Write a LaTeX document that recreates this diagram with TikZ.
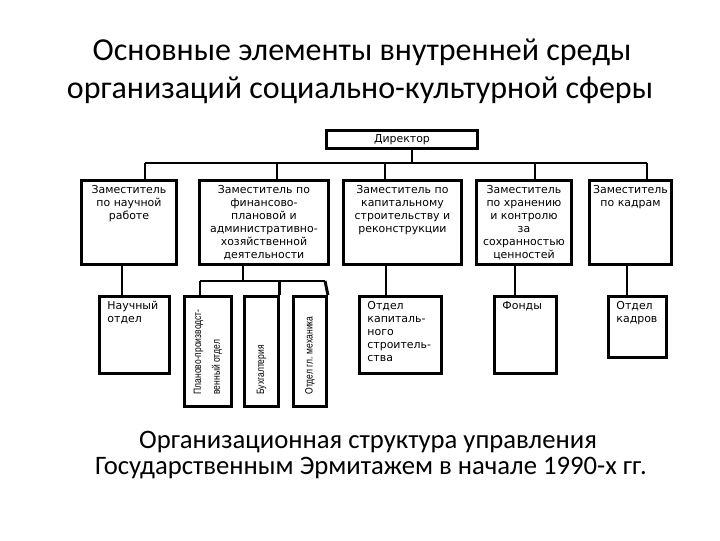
\documentclass[tikz,border=0pt]{standalone}
\usepackage{fontspec}
\setmainfont{Carlito}
\newfontfamily\boxfont{DejaVu Sans}
\newfontfamily\rotfont[FakeStretch=0.8]{Liberation Sans}
\newdimen\pxu \pxu=0.75pt
\newcommand\cell[3]{\parbox[c][#2\pxu][t]{#1\pxu}{\centering\rule{0pt}{13.5\pxu}#3}}
\newcommand\lcell[3]{\parbox[c][#2\pxu][t]{#1\pxu}{\raggedright\leftskip=8\pxu\rule{0pt}{13.5\pxu}#3}}
\newcommand\rcell[3]{\parbox[c][#2\pxu][c]{#1\pxu}{\raggedright\leftskip=12\pxu #3}}
\begin{document}
\begin{tikzpicture}[x=0.75pt,y=-0.75pt,
  zam/.style={draw, line width=2.2pt, inner sep=0pt, anchor=north west,
    font=\boxfont\fontsize{8.2}{9.75}\selectfont},
  otd/.style={zam},
  rotd/.style={zam, rotate=90, anchor=north east,
    font=\rotfont\fontsize{8}{14}\selectfont},
  ln/.style={line width=2.2pt},
  title/.style={anchor=base, font=\fontsize{24}{28}\selectfont},
  caption/.style={anchor=base, font=\fontsize{20}{24}\selectfont}]
\useasboundingbox (0,0) rectangle (720,540);
\node[title] (ttl1) at (362,60) {Основные элементы внутренней среды};
\node[title] (ttl2) at (360,98) {организаций социально-культурной сферы};
\node[zam, minimum width=151\pxu, minimum height=18\pxu] (dir) at (325,129) {Директор};
\node[zam] (z1) at (80,179) {\cell{95}{84}{Заместитель\\по научной\\работе}};
\node[zam] (z2) at (198,179) {\cell{129}{84}{Заместитель по\\финансово-\\плановой и\\административно-\\хозяйственной\\деятельности}};
\node[zam] (z3) at (342,179) {\cell{118}{84}{Заместитель по\\капитальному\\строительству и\\реконструкции}};
\node[zam] (z4) at (475,179) {\cell{95}{84}{Заместитель\\по хранению\\и контролю\\за\\сохранностью\\ценностей}};
\node[zam] (z5) at (588,179) {\cell{82}{84}{Заместитель\\по кадрам}};
\node[otd] (nd) at (98,295) {\lcell{70}{77}{Научный\\отдел}};
\node[rotd] (plano) at (183,295) {\rcell{110}{47}{Планово-производст-\\венный отдел}};
\node[rotd] (buh) at (243,295) {\rcell{110}{34}{Бухгалтерия}};
\node[rotd] (mech) at (292,295) {\rcell{110}{33}{Отдел гл. механика}};
\node[otd] (oks) at (358,295) {\lcell{82}{77}{Отдел\\капиталь-\\ного\\строитель-\\ства}};
\node[otd] (fond) at (493,295) {\lcell{62}{77}{Фонды}};
\node[otd] (kadr) at (607,295) {\lcell{58}{61}{Отдел\\кадров}};
\coordinate (td) at (412,163);
\coordinate (t1) at (145,163);
\coordinate (t2) at (277,163);
\coordinate (t3) at (385,163);
\coordinate (t4) at (535,163);
\coordinate (t5) at (647,163);
\draw[ln] (dir.south -| td) -- (td);
\draw[ln] (t1) -- (t5);
\foreach \i in {1,...,5}
  \draw[ln] (t\i) -- (t\i |- z\i.north);
\coordinate (d1) at (122,280);
\coordinate (d2) at (243,281);
\coordinate (d3) at (386,280);
\coordinate (d4) at (515,280);
\coordinate (d5) at (627,280);
\coordinate (e1) at (200,281);
\coordinate (e2) at (325,281);
\draw[ln] (z1.south -| d1) -- (nd.north -| d1);
\draw[ln] (z2.south -| d2) -- (d2);
\draw[ln] (e1) -- (e2);
\draw[ln] (e1) -- (e1 |- plano.east);
\draw[ln] (buh.south east |- e1) -- (buh.south east);
\draw[ln] (e2) -- (mech.south east);
\draw[ln] (z3.south -| d3) -- (oks.north -| d3);
\draw[ln] (z4.south -| d4) -- (fond.north -| d4);
\draw[ln] (z5.south -| d5) -- (kadr.north -| d5);
\node[caption] (cap1) at (368,448) {Организационная структура управления};
\node[caption] (cap2) at (371,474) {Государственным Эрмитажем в начале 1990-х гг.};
\end{tikzpicture}
\end{document}
